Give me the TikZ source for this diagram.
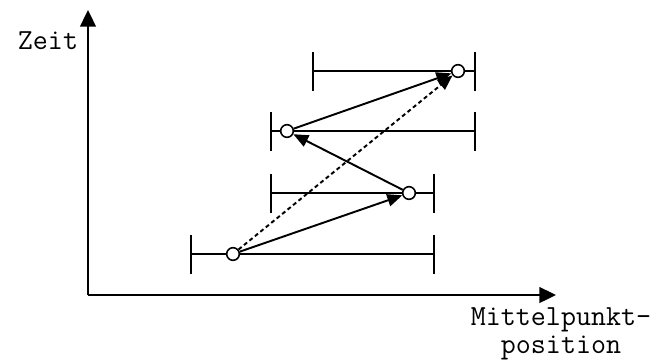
\documentclass[tikz,border=0pt]{standalone}
\usepackage{fontspec}
\usetikzlibrary{arrows.meta}
\tikzset{
  axis/.style={
    -{Triangle[length=9.5pt, width=9pt]},
    line width=1.1pt
  },
  hop/.style={
    -{Triangle[length=8.5pt, width=7pt]},
    line width=1.1pt
  },
  mid dot/.style={
    circle,
    draw,
    fill=white,
    line width=0.9pt,
    inner sep=0pt,
    minimum size=7.2pt
  },
  label text/.style={
    font=\ttfamily\fontsize{16.6}{15.9}\selectfont,
    inner sep=0pt
  }
}

\begin{document}
\begin{tikzpicture}[x=0.02cm, y=0.02cm, line width=1.1pt]
  \useasboundingbox (0,0) rectangle (672,360);
  \pgfmathsetmacro{\h}{19.5}   % halbe Strichhoehe

  %% ---- Achsen ----
  \coordinate (O) at (88,65);
  \coordinate (ytop) at (88,350);
  \coordinate (xend) at (556,65);
  \draw[axis] (O) -- (ytop);
  \draw[axis] (O) -- (xend);
  \node[label text, anchor=base east] (zeit) at (79,311) {Zeit};
  \node[label text, align=center, anchor=base] (mpos) at (561,7) {Mittelpunkt-\\position};

  %% ---- Intervalle ----
  \foreach \i/\xa/\xb/\xm/\yy in {1/191/434/233/106, 2/271/434/409/167,
                                  3/271/475/287/229, 4/313/475/458/289} {
    \draw (\xa,\yy) -- (\xb,\yy);
    \draw (\xa,\yy-\h) -- (\xa,\yy+\h);
    \draw (\xb,\yy-\h) -- (\xb,\yy+\h);
    \node[mid dot] (m\i) at (\xm,\yy) {};
  }

  %% ---- Spruenge ----
  \draw[hop] (m1) -- (m2);
  \draw[hop] (m2) -- (m3);
  \draw[hop] (m3) -- (m4);
  \draw[hop, dash pattern=on 2.3pt off 1.7pt] (m1) -- (m4);

\end{tikzpicture}
\end{document}
